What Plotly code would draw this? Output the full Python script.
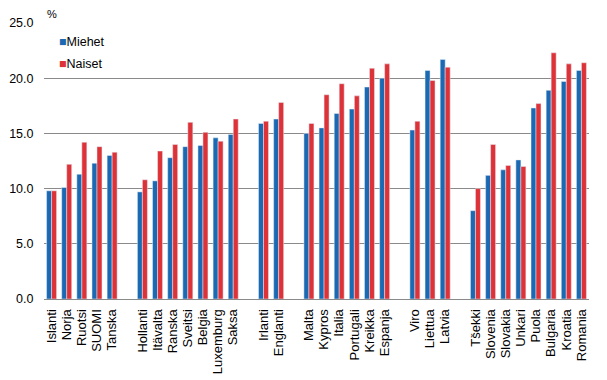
import plotly.graph_objects as go

groups = [
    ["Islanti", "Norja", "Ruotsi", "SUOMI", "Tanska"],
    ["Hollanti", "Itävalta", "Ranska", "Sveitsi", "Belgia", "Luxemburg", "Saksa"],
    ["Irlanti", "Englanti"],
    ["Malta", "Kypros", "Italia", "Portugali", "Kreikka", "Espanja"],
    ["Viro", "Liettua", "Latvia"],
    ["Tšekki", "Slovenia", "Slovakia", "Unkari", "Puola", "Bulgaria", "Kroatia", "Romania"],
]

miehet = [9.8, 10.1, 11.3, 12.3, 13.0,
          9.7, 10.7, 12.8, 13.8, 13.9, 14.6, 14.9,
          15.9, 16.3,
          15.0, 15.5, 16.8, 17.2, 19.2, 20.0,
          15.3, 20.7, 21.7,
          8.0, 11.2, 11.7, 12.6, 17.3, 18.9, 19.7, 20.7]

naiset = [9.8, 12.2, 14.2, 13.8, 13.3,
          10.8, 13.4, 14.0, 16.0, 15.1, 14.3, 16.3,
          16.1, 17.8,
          15.9, 18.5, 19.5, 18.4, 20.9, 21.3,
          16.1, 19.8, 21.0,
          10.0, 14.0, 12.1, 12.0, 17.7, 22.3, 21.3, 21.4]

y_ticks = [0, 5, 10, 15, 20, 25]
y_ticktext = ["0.0", "5.0", "10.0", "15.0", "20.0", "25.0"]

BLUE = "#1b69b2"
RED = "#dd3238"
FONT = "Liberation Sans, Arial, sans-serif"

# Build category slots with empty separators between groups
cats, m_vals, n_vals = [], [], []
i = 0
for gi, g in enumerate(groups):
    for c in g:
        cats.append(c)
        m_vals.append(miehet[i])
        n_vals.append(naiset[i])
        i += 1
    if gi < len(groups) - 1:
        cats.append(" " * (gi + 1))
        m_vals.append(None)
        n_vals.append(None)

fig = go.Figure()
fig.add_trace(go.Bar(x=cats, y=m_vals, name="Miehet", marker_color=BLUE,
                     showlegend=False))
fig.add_trace(go.Bar(x=cats, y=n_vals, name="Naiset", marker_color=RED,
                     showlegend=False))
# legend entries: small coloured square glyph directly before the text
fig.add_trace(go.Scatter(x=[None], y=[None], mode="markers",
                         name=f"<span style='color:{BLUE}'>■</span>Miehet",
                         marker=dict(size=1, color="rgba(0,0,0,0)"),
                         legendgroup="m"))
fig.add_trace(go.Scatter(x=[None], y=[None], mode="markers",
                         name=f"<span style='color:{RED}'>■</span>Naiset",
                         marker=dict(size=1, color="rgba(0,0,0,0)"),
                         legendgroup="n"))

fig.update_layout(
    width=607, height=380,
    margin=dict(l=44, r=18, t=23, b=81, autoexpand=False),
    paper_bgcolor="white", plot_bgcolor="white",
    font=dict(family=FONT, size=12.5, color="#000000"),
    barmode="group", bargap=0.34, bargroupgap=0,
    showlegend=True,
    legend=dict(x=-0.046, y=0.989, xanchor="left", yanchor="top",
                bgcolor="rgba(0,0,0,0)", tracegroupgap=3,
                font=dict(family=FONT, size=12.5, color="#000000")),
    xaxis=dict(type="category", categoryorder="array", categoryarray=cats,
               tickmode="linear", tick0=0, dtick=1,
               tickangle=-90, showgrid=False, showline=False,
               ticks="outside", ticklen=4, tickcolor="rgba(0,0,0,0)",
               tickfont=dict(family=FONT, size=13, color="#000000"),
               automargin=False, fixedrange=True),
    yaxis=dict(range=[0, 25], tickvals=y_ticks, ticktext=y_ticktext,
               showgrid=True, gridcolor="#8a8a8a", gridwidth=1,
               zeroline=True, zerolinecolor="#8a8a8a", zerolinewidth=1,
               showline=False, ticks="outside", ticklen=7,
               tickcolor="rgba(0,0,0,0)", automargin=False, fixedrange=True,
               tickfont=dict(family=FONT, size=12.5, color="#000000")),
    annotations=[dict(text="%", xref="paper", yref="paper", x=0, y=1,
                      xanchor="left", yanchor="bottom", showarrow=False,
                      xshift=1, yshift=1,
                      font=dict(family=FONT, size=11, color="#000000"))],
)

fig.write_html("out.html", config={"displayModeBar": False},
               post_script="document.body.style.margin='0';")
